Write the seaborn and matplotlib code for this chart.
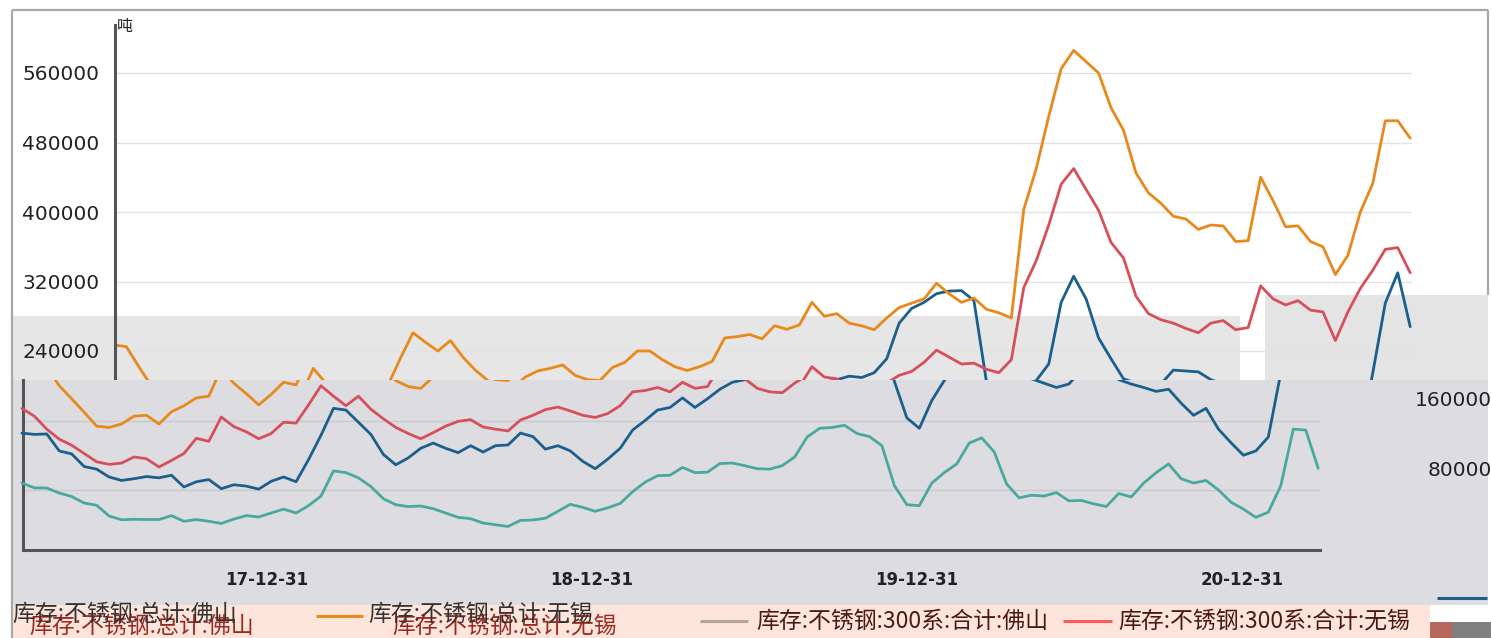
import numpy as np
import pandas as pd
import matplotlib
matplotlib.use("Agg")
import matplotlib.pyplot as plt
import matplotlib.dates as mdates
from matplotlib.patches import Rectangle
from matplotlib.lines import Line2D
from matplotlib.ticker import FixedLocator, NullFormatter
import seaborn as sns

sns.set_theme(style="white")
plt.rcParams["font.family"] = ["Noto Sans CJK SC", "DejaVu Sans"]
plt.rcParams["axes.unicode_minus"] = False

# ---------------- data ----------------
dates = pd.date_range("2017-03-31", periods=105, freq="14D")

series_names = ["库存:不锈钢:总计:佛山", "库存:不锈钢:总计:无锡",
                "库存:不锈钢:300系:合计:佛山", "库存:不锈钢:300系:合计:无锡"]

foshan_total = [145500, 144000, 144500, 125000, 121500, 107000, 104000, 95000, 91000, 93000,
                95500, 94000, 97000, 83500, 89500, 92000, 81500, 86000, 84500, 81000,
                90000, 95000, 89500, 115000, 143000, 174000, 172000, 158000, 144000, 121000,
                109000, 117000, 128000, 134000, 128000, 123000, 131000, 123700, 131000, 131800,
                145500, 141500, 127000, 131000, 125000, 113000, 104500, 115500, 128000, 149000,
                160000, 172000, 175000, 186000, 175000, 185000, 196000, 204000, 207000, 211000,
                209500, 215000, 231000, 272000, 289000, 296000, 306000, 309000, 309500, 298000,
                205000, 163000, 151000, 183000, 206000, 225000, 296000, 326000, 300000, 255000,
                231000, 208000, 203000, 198000, 202000, 218000, 217000, 216000, 207000, 202000,
                198000, 193500, 196000, 180000, 166000, 174000, 150000, 134500, 120000, 125000,
                141000, 215000, 295000, 330000, 268000]

wuxi_total = [247000, 245000, 222000, 200000, 185000, 169500, 153500, 152000, 156000, 165000,
              166000, 156000, 170000, 177000, 186000, 188000, 220000, 203000, 191000, 178000,
              190000, 204000, 201000, 232000, 261000, 250000, 240000, 252000, 233000, 218000,
              206000, 199000, 197000, 210000, 217000, 220000, 224000, 212000, 207000, 206000,
              221000, 227000, 240000, 240000, 230000, 222000, 217500, 222000, 228000, 255000,
              256500, 259000, 254000, 269000, 265000, 270000, 296000, 280000, 283000, 272000,
              269000, 264500, 278000, 290000, 295000, 300000, 318000, 306000, 296000, 301000,
              288000, 284000, 278000, 403000, 450000, 510000, 565000, 586000, 573000, 560000,
              520000, 494000, 445000, 422000, 410000, 395000, 392000, 380000, 385000, 384000,
              366000, 367000, 440000, 413000, 383000, 384000, 366000, 360000, 328000, 350000,
              400000, 433000, 505000, 505000, 485000]

foshan_300 = [88000, 82500, 82300, 76500, 72500, 65000, 62500, 50000, 45800, 46300,
              46000, 46000, 50500, 44000, 46000, 44000, 41500, 46500, 50500, 49000,
              53500, 58000, 53500, 62000, 73000, 102000, 100000, 94000, 84000, 70000,
              63000, 61000, 61500, 58500, 53500, 48500, 47000, 42000, 40000, 38000,
              45000, 45500, 47500, 55500, 63500, 60000, 55500, 59500, 64500, 78000,
              89000, 96500, 97000, 106000, 100000, 100500, 110500, 111000, 108000, 104500,
              104000, 108000, 118000, 141000, 151000, 152000, 154500, 145000, 141500, 131000,
              85000, 63000, 62000, 88000, 100000, 110000, 134000, 140000, 124000, 87000,
              71000, 74000, 73000, 77000, 67500, 68000, 64000, 61000, 76000, 72000,
              88000, 100000, 110000, 93000, 88000, 91000, 80000, 66000, 58000, 48500,
              54500, 85000, 150000, 149000, 105000]

wuxi_300 = [174000, 165000, 150000, 138500, 131500, 122000, 112500, 109500, 111000, 118000,
            116000, 106500, 114000, 122000, 139500, 136000, 164000, 153000, 147000, 139000,
            145000, 158000, 157000, 178000, 200000, 188000, 177000, 188000, 173000, 162000,
            152000, 145000, 139000, 146000, 153500, 159000, 161000, 152500, 150000, 148000,
            160500, 166000, 172500, 175500, 171000, 166000, 163500, 168000, 177000, 193000,
            194500, 198000, 193000, 204000, 197000, 199000, 222000, 210000, 208000, 197000,
            193000, 192000, 203000, 212000, 216500, 227000, 241000, 233000, 225000, 226000,
            219000, 215000, 230000, 313000, 344000, 385000, 432000, 450000, 426000, 402000,
            365000, 347000, 303000, 283000, 276000, 272000, 266000, 261000, 272000, 275000,
            264500, 267000, 315000, 300000, 293000, 298000, 287000, 285000, 252000, 285000,
            312000, 333000, 357000, 359000, 330000]

y_major = [80000, 160000, 240000, 320000, 400000, 480000, 560000]
year_ticks = ["2017-12-31", "2018-12-31", "2019-12-31", "2020-12-31"]
unit_label = "吨"
ghost_labels = ["160000", "80000"]

colors = ["#1c5f8c", "#e8891c", "#4aa8a0", "#d6505c"]

df = pd.DataFrame({"date": dates,
                   series_names[0]: foshan_total,
                   series_names[1]: wuxi_total,
                   series_names[2]: foshan_300,
                   series_names[3]: wuxi_300})
long_df = df.melt(id_vars="date", var_name="series", value_name="value")
palette = dict(zip(series_names, colors))

# ---------------- geometry helpers (pixels) ----------------
W, H = 1491, 638
def X(px): return px / W
def Y(py): return 1 - py / H

REF = pd.Timestamp("2017-12-31")
REF_PX = 358.7
PX_PER_DAY = 325.2 / 365.25
def date_at(px): return REF + pd.Timedelta(days=(px - REF_PX) / PX_PER_DAY)
def val_at(py): return 240000 + (351 - py) * 80000 / 69.5

SHIFT = 92  # horizontal offset of the lower (glitched) copy
NUM_FONT = "DejaVu Sans"
LW = 2.0

fig = plt.figure(figsize=(W / 100, H / 100), dpi=100)
fig.patch.set_facecolor("white")

def rect(x0, y0, x1, y1, color, z):
    fig.add_artist(Rectangle((X(x0), Y(y1)), X(x1) - X(x0), Y(y0) - Y(y1),
                             transform=fig.transFigure, facecolor=color,
                             edgecolor="none", zorder=z))

def fline(x0, y0, x1, y1, color, lw, z):
    fig.add_artist(Line2D([X(x0), X(x1)], [Y(y0), Y(y1)], transform=fig.transFigure,
                          color=color, lw=lw, zorder=z, solid_capstyle="butt"))

# gray bands behind main chart
rect(12, 316, 1240, 380, "#e6e6e6", -2)
rect(1265, 295, 1488, 380, "#e4e4e4", -2)

AX_COL = "#555555"

# ---------------- main axes ----------------
ax = fig.add_axes([X(115), Y(550), X(1412) - X(115), Y(25) - Y(550)], zorder=0)
ax.set_facecolor("none")
sns.lineplot(data=long_df, x="date", y="value", hue="series", palette=palette,
             ax=ax, legend=False, linewidth=LW)
ax.set_xlim(date_at(115), date_at(1412))
ax.set_ylim(val_at(550), val_at(25))
ax.set_xlabel("")
ax.set_ylabel("")
ax.xaxis.set_visible(False)
for s in ["top", "right", "bottom"]:
    ax.spines[s].set_visible(False)
ax.spines["left"].set_color(AX_COL)
ax.spines["left"].set_linewidth(2.2)
ax.yaxis.set_major_locator(FixedLocator(y_major))
minor_vals = [v for v in np.arange(80000 / 3, 600000, 80000 / 3)
              if abs(v / 80000 - round(v / 80000)) > 0.01]
ax.yaxis.set_minor_locator(FixedLocator(minor_vals))
ax.yaxis.set_major_formatter(matplotlib.ticker.FuncFormatter(lambda v, p: f"{int(round(v))}"))
ax.tick_params(axis="y", which="major", direction="out", length=10, width=2,
               color=AX_COL, labelsize=14.5, labelcolor="#222222", pad=1)
ax.tick_params(axis="y", which="minor", direction="in", length=7, width=2, color=AX_COL)
for lab in ax.get_yticklabels():
    lab.set_fontfamily(NUM_FONT)
ax.grid(axis="y", which="major", color="#e2e2e2", linewidth=1)
ax.set_axisbelow(True)
fig.text(X(117), Y(26), unit_label, fontsize=11.5, color="#222222", va="center", ha="left")

# ---------------- lower (shifted) panel ----------------
ax2 = fig.add_axes([X(12), Y(605), X(1488) - X(12), Y(380) - Y(605)], zorder=2)
ax2.set_facecolor("#dddde1")
x_left = mdates.date2num(date_at(115))
x_right = mdates.date2num(date_at(1412))
ax2.hlines([80000, 160000], x_left, x_right, color="#cacace", linewidth=1, zorder=1)
sns.lineplot(data=long_df, x="date", y="value", hue="series", palette=palette,
             ax=ax2, legend=False, linewidth=LW, zorder=3)
ax2.set_xlim(date_at(12 + SHIFT), date_at(1488 + SHIFT))
ax2.set_ylim(val_at(605), val_at(380))
ax2.set_xlabel("")
ax2.set_ylabel("")
for s in ["top", "right"]:
    ax2.spines[s].set_visible(False)
ax2.spines["left"].set_position(("data", x_left))
ax2.spines["left"].set_bounds(val_at(550), val_at(380))
ax2.spines["bottom"].set_position(("data", val_at(550)))
ax2.spines["bottom"].set_bounds(x_left, x_right)
for s in ["left", "bottom"]:
    ax2.spines[s].set_color(AX_COL)
    ax2.spines[s].set_linewidth(2.2)
ax2.yaxis.set_major_locator(FixedLocator([80000, 160000]))
ax2.yaxis.set_minor_locator(FixedLocator([v for v in minor_vals if v < 200000]))
ax2.tick_params(axis="y", which="major", direction="out", length=10, width=2,
                color=AX_COL, labelleft=False)
ax2.tick_params(axis="y", which="minor", direction="in", length=7, width=2, color=AX_COL)
major_x = [pd.Timestamp(d) for d in year_ticks]
minor_x = [pd.Timestamp(y, m, d) for y in range(2017, 2021)
           for (m, d) in ((3, 31), (6, 30), (9, 30))]
ax2.xaxis.set_major_locator(FixedLocator(mdates.date2num(major_x)))
ax2.xaxis.set_minor_locator(FixedLocator(mdates.date2num(minor_x)))
ax2.xaxis.set_major_formatter(mdates.DateFormatter("%y-%m-%d"))
ax2.xaxis.set_minor_formatter(NullFormatter())
ax2.tick_params(axis="x", which="major", direction="out", length=10, width=2,
                color=AX_COL, labelsize=12, labelcolor="#222222", pad=5)
ax2.tick_params(axis="x", which="minor", direction="out", length=6, width=2, color=AX_COL)
for lab in ax2.get_xticklabels():
    lab.set_fontfamily(NUM_FONT)
    lab.set_fontweight("bold")

# ghost tick labels on the right
fig.text(X(1415), Y(400), ghost_labels[0], fontsize=14.5, family=NUM_FONT,
         color="#222222", va="center", ha="left", zorder=6)
fig.text(X(1428), Y(470), ghost_labels[1], fontsize=14.5, family=NUM_FONT,
         color="#222222", va="center", ha="left", zorder=6)

# ---------------- legend strip ----------------
rect(12, 605, 1430, 638, "#fde5db", 3)
rect(1430, 622, 1452, 638, "#b8675c", 3)
rect(1452, 622, 1491, 638, "#808080", 3)
fline(1437, 598, 1487, 598, colors[0], 2.2, 4)

LEG_FS = 16.5
# doubled (ghost) text for the first two entries, as in the source
fig.text(X(29), Y(626), series_names[0], fontsize=LEG_FS, color="#9a2a20", va="center", ha="left", zorder=4)
fig.text(X(12), Y(614), series_names[0], fontsize=LEG_FS, color="#333333", va="center", ha="left", zorder=5)
fline(316, 616, 363, 616, colors[1], 2.2, 4)
fig.text(X(392), Y(626), series_names[1], fontsize=LEG_FS, color="#9a2a20", va="center", ha="left", zorder=4)
fig.text(X(368), Y(614), series_names[1], fontsize=LEG_FS, color="#333333", va="center", ha="left", zorder=5)
fline(700, 621, 748, 621, "#b5a697", 2.2, 4)
fig.text(X(756), Y(621), series_names[2], fontsize=LEG_FS, color="#4a1a10", va="center", ha="left", zorder=4)
fline(1063, 621, 1112, 621, "#ff5a5a", 2.2, 4)
fig.text(X(1118), Y(621), series_names[3], fontsize=LEG_FS, color="#4a1a10", va="center", ha="left", zorder=4)

# ---------------- outer frame ----------------
fline(12, 10, 12, 638, "#a8a8a8", 1.6, 7)
fline(12, 10, 1488, 10, "#a8a8a8", 1.6, 7)
fline(1488, 10, 1488, 295, "#a8a8a8", 1.6, 7)

fig.savefig("out.png", dpi=100, facecolor="white")
